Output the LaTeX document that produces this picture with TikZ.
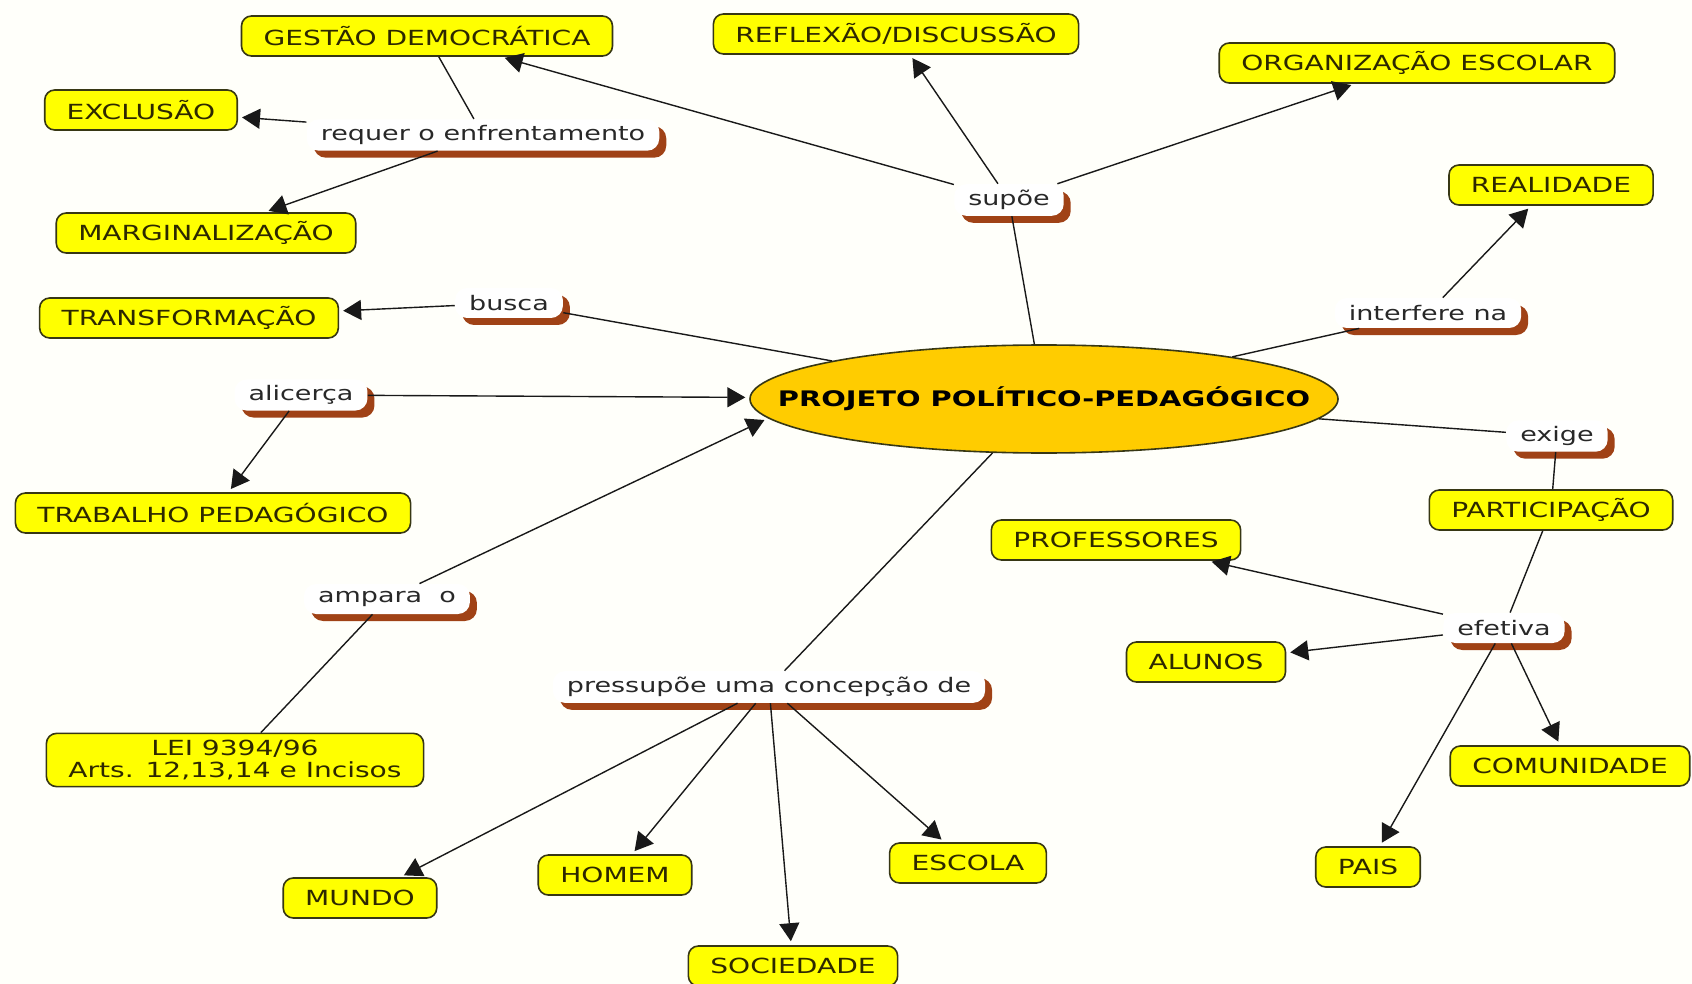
\documentclass[tikz,border=0pt]{standalone}
\usepackage{fontspec}
\setmainfont{DejaVu Sans}[FakeStretch=1.35]
\usetikzlibrary{shapes.geometric,shadows,arrows.meta}

\definecolor{mapbg}{RGB}{255,255,250}
\definecolor{boxyellow}{RGB}{255,255,0}
\definecolor{boxline}{RGB}{55,55,20}
\definecolor{boxtext}{RGB}{45,40,0}
\definecolor{hubgold}{RGB}{255,204,0}
\definecolor{linkbrown}{RGB}{160,66,22}
\definecolor{linktext}{RGB}{40,40,40}
\definecolor{edgegray}{RGB}{25,25,25}

\begin{document}
\begin{tikzpicture}[x=0.5pt, y=-0.5pt,
  concept/.style={rectangle, rounded corners=5pt, draw=boxline, line width=0.8pt, fill=boxyellow, text=boxtext, font=\fontsize{10.4}{11}\selectfont, inner xsep=11pt, minimum height=20pt, align=center},
  link/.style={rectangle, rounded corners=6pt, fill=white, text=linktext, font=\fontsize{10}{12}\selectfont, inner xsep=7pt, inner ysep=3pt, minimum height=15pt, drop shadow={shadow xshift=3.5pt, shadow yshift=-3.5pt, fill=linkbrown, opacity=1}},
  hub/.style={ellipse, draw=boxline, line width=0.8pt, fill=hubgold, minimum width=294pt, minimum height=54pt, font=\fontsize{10.7}{12}\selectfont\bfseries},
  plain/.style={draw=edgegray, line width=0.7pt},
  arr/.style={plain, -{Triangle[length=9pt, width=10pt]}, shorten >=2pt}
]
  \useasboundingbox (0,0) rectangle (1692,984);
  \fill[mapbg] (0,0) rectangle (1692,984);

  \node[hub] (ppp) at (1044,399) {\makebox[0pt]{PROJETO POLÍTICO-PEDAGÓGICO}};

  \node[concept] (gestao) at (427,36) {GESTÃO DEMOCRÁTICA};
  \node[concept] (reflexao) at (896,34) {REFLEXÃO/DISCUSSÃO};
  \node[concept] (organizacao) at (1417,63) {ORGANIZAÇÃO ESCOLAR};
  \node[concept] (exclusao) at (141,110) {EXCLUSÃO};
  \node[concept] (marginal) at (206,233) {MARGINALIZAÇÃO};
  \node[concept] (realidade) at (1551,185) {REALIDADE};
  \node[concept] (transformacao) at (189,318) {TRANSFORMAÇÃO};
  \node[concept] (trabalho) at (213,513) {TRABALHO PEDAGÓGICO};
  \node[concept] (professores) at (1116,540) {PROFESSORES};
  \node[concept] (participacao) at (1551,510) {PARTICIPAÇÃO};
  \node[concept] (alunos) at (1206,662) {ALUNOS};
  \node[concept] (comunidade) at (1570,766) {COMUNIDADE};
  \node[concept] (lei) at (235,760) {LEI 9394/96\\Arts. 12,13,14 e Incisos};
  \node[concept] (mundo) at (360,898) {MUNDO};
  \node[concept] (homem) at (615,875) {HOMEM};
  \node[concept] (escola) at (968,863) {ESCOLA};
  \node[concept] (sociedade) at (793,966) {SOCIEDADE};
  \node[concept] (pais) at (1368,867) {PAIS};

  \node[link] (requer) at (483,135) {requer o enfrentamento};
  \node[link] (supoe) at (1009,200) {supõe};
  \node[link] (busca) at (509,303) {busca};
  \node[link] (interfere) at (1428,313) {interfere na};
  \node[link] (alicerca) at (301,395) {alicerça};
  \node[link] (exige) at (1557,436) {exige};
  \node[link] (ampara) at (387,599) {ampara\ \ o};
  \node[link] (efetiva) at (1504,628) {efetiva};
  \node[link] (pressupoe) at (769,687) {pressupõe uma concepção de};

  \draw[plain] (ppp) -- (supoe);
  \draw[arr] (supoe) -- (gestao);
  \draw[arr] (supoe) -- (reflexao);
  \draw[arr] (supoe) -- (organizacao);
  \draw[plain] (gestao) -- (requer);
  \draw[arr] (requer) -- (exclusao);
  \draw[arr] (requer) -- (marginal);
  \draw[plain] (ppp) -- (busca);
  \draw[arr] (busca) -- (transformacao);
  \draw[plain] (ppp) -- (interfere);
  \draw[arr] (interfere) -- (realidade);
  \draw[arr] (alicerca) -- (ppp);
  \draw[arr] (alicerca) -- (trabalho);
  \draw[arr] (ampara) -- (ppp.184);
  \draw[plain] (ampara) -- (lei);
  \draw[plain] (ppp) -- (pressupoe);
  \draw[arr] (pressupoe) -- (mundo);
  \draw[arr] (pressupoe) -- (homem);
  \draw[arr] (pressupoe) -- (sociedade);
  \draw[arr] (pressupoe) -- (escola);
  \draw[plain] (ppp) -- (exige);
  \draw[plain] (exige) -- (participacao);
  \draw[plain] (participacao) -- (efetiva);
  \draw[arr] (efetiva) -- (professores);
  \draw[arr] (efetiva) -- (alunos);
  \draw[arr] (efetiva) -- (comunidade);
  \draw[arr] (efetiva) -- (pais);
\end{tikzpicture}
\end{document}
